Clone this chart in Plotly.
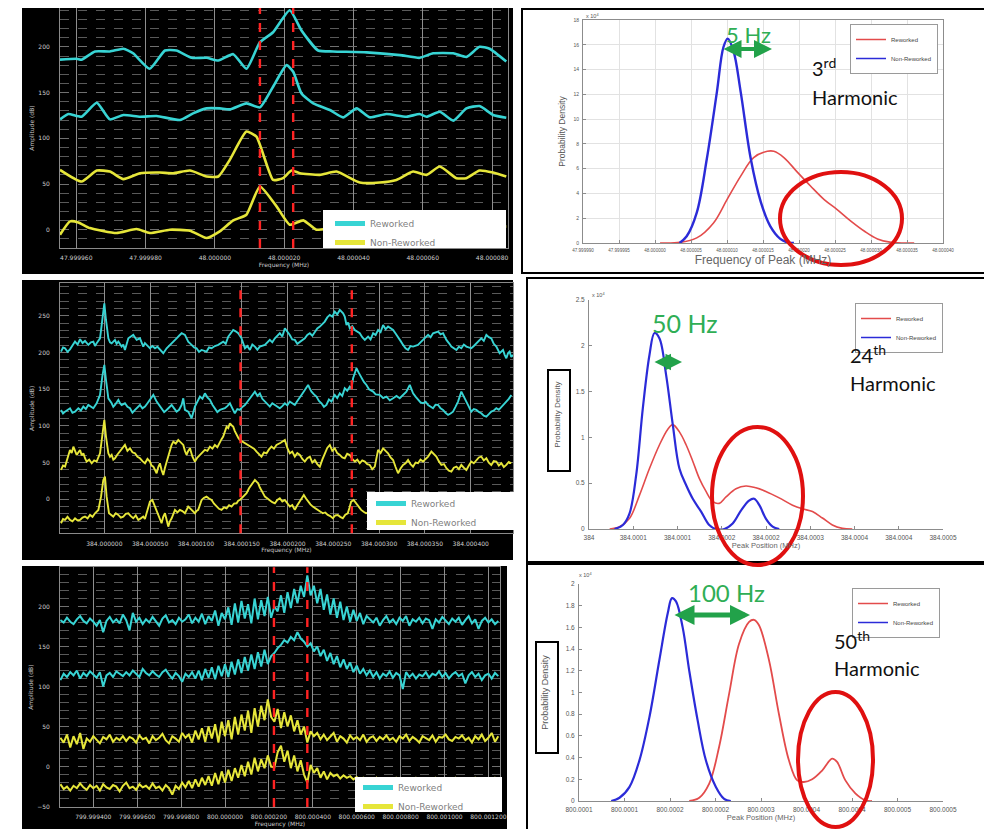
import plotly.graph_objects as go

W, H = 992, 829
OFF = 8  # the page places the figure 8 px from the top-left corner of the window
def px(x): return (x - OFF) / W
def py(y): return 1 - (y - OFF) / H

CYAN = "#38d4d4"
YEL = "#e6e63a"
RED = "#e34b4b"
BLUE = "#2b2bd8"
GREEN = "#2fae55"

# ---------------- DATA ----------------
# Panel A: 3rd harmonic spectra, x = offset from 48 MHz (Hz), y = amplitude (dB)
a_tickvals = [-40, -20, 0, 20, 40, 60, 80]
a_ticktext = ["47.999960", "47.999980", "48.000000", "48.000020", "48.000040", "48.000060", "48.000080"]
a_markers = [13.0, 22.6]
a_rew_1 = [(-44.7,186),(-39.9,187),(-38.5,186),(-34.6,195),(-30.3,195),(-26.4,198),(-23.6,193),(-18.8,176),
           (-14.4,196),(-11.1,196),(-6.7,188),(-2.4,188),(1.0,185),(5.3,192),(9.1,176),(13.0,205),(16.8,216),
           (21.6,240),(25.0,218),(29.8,196),(34.1,195),(43.8,194),(53.4,191),(59.1,188),(63.0,193),(68.8,193),
           (72.6,189),(76.4,200),(79.3,198),(84.1,184)]
a_rew_2 = [(-44.7,120.7),(-42.3,126.5),(-38.5,123.6),(-34.1,138.9),(-30.3,120.7),(-26.4,125.5),(-21.6,123.6),
           (-16.8,124.4),(-10.1,120),(-6.3,127.3),(-2.4,132.7),(1.4,132.7),(4.3,131.6),(9.1,138.2),(13.0,133.8),
           (16.8,156.4),(20.7,180),(22.6,172.7),(25.0,149),(28.4,138.2),(33.2,130.9),(37.0,122.9),(40.9,132.7),
           (44.7,122.9),(49.5,126.5),(55.3,123.6),(59.1,126.5),(61.1,123.6),(64.9,129),(68.8,119.3),(72.6,132.7),
           (76.4,135.3),(80.3,125.5),(84.1,122.5)]
a_non_1 = [(-44.7,65.5),(-38.5,52.7),(-34.1,64.7),(-30.3,63.6),(-26.4,55.3),(-21.6,61.8),(-15.9,62.5),(-12.0,61.8),
           (-7.2,64.7),(-2.4,58.2),(1.0,58.2),(4.3,76.4),(9.1,107.3),(12.0,101.8),(16.8,54.5),(19.7,56.4),
           (22.1,64.7),(24.5,61.8),(30.3,60),(35.1,63.6),(41.8,51.6),(47.6,51.6),(52.4,54.5),(57.2,63.6),
           (61.1,60),(64.9,69.1),(69.7,56.4),(72.6,56.4),(76.4,64.7),(80.3,62.5),(84.1,58.2)]
a_non_2 = [(-44.7,-5.5),(-41.8,9.1),(-39.4,8),(-36.1,1.8),(-28.4,-3.6),(-22.6,0.7),(-18.8,-3.6),(-13.0,0),
           (-7.2,-1.1),(-2.4,-9.1),(1.4,-1.8),(5.3,10.2),(9.1,16.4),(13.0,47.3),(17.8,25.5),(21.6,5.5),
           (25.5,10.2),(29.3,0),(34.1,2),(43.8,0),(53.4,3),(63.0,1),(72.6,2),(84.1,3.6)]

# Panel C: 24th harmonic spectra, x = offset from 384 MHz (Hz)
c_tickvals = [0, 50, 100, 150, 200, 250, 300, 350, 400]
c_ticktext = ["384.000000", "384.000050", "384.000100", "384.000150", "384.000200",
              "384.000250", "384.000300", "384.000350", "384.000400"]
c_markers = [148.7, 270.2]
c_rew_1 = [(-47.3,201.4),(-45.1,207),(-42.9,205.9),(-40.2,201),(-37.5,204.5),(-34.8,210),(-32,215),(-29.2,211),
           (-26.5,218.2),(-23.8,213),(-21.1,215.9),(-17.5,210.5),(-14.7,214),(-12,215),(-10.2,209),(-8.4,212.7),
           (-4.7,219.5),(-2.2,244.5),(0,267.3),(1.8,244.5),(4.4,219.5),(6.2,214),(8,212.7),(11.6,217.3),
           (13.4,212),(15.3,215),(18.9,208.2),(20.7,211),(22.5,203.6),(26.2,219.5),(28.9,222),(31.6,224.1),
           (35.3,217.3),(38.9,219.5),(42.5,208.2),(44.3,213),(46.2,210.5),(49.8,205.9),(52.5,209),(55.3,205.9),
           (58,208),(60.7,203.6),(64.4,199.1),(68,205.9),(70.7,209),(73.5,212.7),(78.9,219.5),(81.6,223),
           (84.4,226.4),(88,224.1),(91.6,215),(95.3,210.5),(98,207),(100.7,205.9),(103.4,201),(106.2,203.6),
           (111.6,201.4),(114.3,207),(117.1,205.9),(120.7,209),(124.4,210.5),(129.8,215),(132.5,212),(135.3,221.8),
           (138,226),(140.7,230.9),(143.4,229),(146.2,226.4),(149.8,219.5),(153.5,205.9),(156.2,209),(158.9,203.6),
           (161.6,211),(164.4,208.2),(167.1,204),(169.8,208.2),(175.3,210.5),(178,214),(180.7,217.3),(183.4,214),
           (186.2,219.5),(191.6,226.4),(194.3,222),(197.1,233.2),(199.8,229),(202.5,224.1),(205.2,218),(208,217.3),
           (210.7,212),(213.5,215),(218.9,219.5),(221.6,224),(224.4,226.4),(227.1,223),(229.8,228.6),(232.5,233),
           (235.3,235.5),(238,239),(240.7,242.3),(243.4,248),(246.2,251.4),(248.9,249),(251.6,255.9),(254.3,252),
           (257.1,258.2),(260.7,253.6),(262.5,249),(264.4,237.7),(266.2,241),(268,233.2),(270.7,236),(273.5,230.9),
           (276.2,228),(278.9,226.4),(281.6,221),(284.4,217.3),(288,221.8),(290.7,218),(293.5,226.4),(296.2,224),
           (298.9,230.9),(301.6,228),(304.4,237.7),(307.1,232),(309.8,235.5),(315.3,230.9),(318,226),(320.7,221.8),
           (323.4,216),(326.2,210.5),(328.9,206),(331.6,203.6),(334.3,209),(337.1,208.2),(342.5,210.5),(345.2,214),
           (348,217.3),(353.5,224.1),(356.2,221),(358.9,226.4),(364.4,228.6),(367.1,225),(369.8,226.4),(373.5,217.3),
           (376.2,213),(378.9,208.2),(384.4,203.6),(387.1,208),(389.8,205.9),(392.5,211),(395.3,208.2),(400.7,205.9),
           (403.4,209),(406.2,212.7),(408.9,215),(411.6,219.5),(414.3,216),(417.1,224.1),(419.8,221),(422.5,219.5),
           (425.2,212),(428,208.2),(431.6,199.1),(435.3,203.6),(437.1,197),(438.9,192.3),(440.7,199),(442.5,201.4),
           (444.3,194),(446.2,196.8)]
c_rew_2 = [(-47.3,121.8),(-45.1,117),(-42.9,119.5),(-40.2,122),(-37.5,124.1),(-34.8,118),(-32,119.5),(-28.4,124.1),
           (-25.6,121),(-22.9,126.4),(-20.2,123),(-17.5,128.6),(-14.8,126),(-12,124.1),(-8.4,130.9),(-4.7,142.3),
           (-2.2,167.3),(0,183.2),(1.8,162.7),(4.4,137.7),(8,130.9),(9.8,126),(11.6,128.6),(15.3,135.5),(17.1,131),
           (18.9,128.6),(22.5,130.9),(25.3,126),(28,124.1),(30.7,118),(33.5,121.8),(36.2,126),(38.9,128.6),
           (41.6,124),(44.4,126.4),(47.1,131),(49.8,135.5),(53.5,142.3),(57.1,133.2),(59.8,128),(62.5,124.1),
           (65.3,119),(68,121.8),(70.7,125),(73.5,128.6),(76.2,124),(78.9,119.5),(81.6,122),(84.4,128.6),
           (86.2,137.7),(88,121.8),(91.6,119.5),(93.4,114),(95.3,110.5),(98.9,126.4),(101.6,133),(104.4,140),
           (107.1,137),(109.8,144.5),(112.5,139),(115.3,135.5),(118,129),(120.7,124.1),(123.4,119),(126.2,121.8),
           (131.6,124.1),(134.3,127),(137.1,130.9),(139.8,124),(142.5,117.3),(145.2,123),(148,121.8),(150.7,126),
           (153.5,128.6),(156.2,133),(158.9,137.7),(161.6,143),(164.4,146.8),(167.1,141),(169.8,144.5),(172.5,137),
           (175.3,133.2),(178,129),(180.7,126.4),(183.4,131),(186.2,128.6),(191.6,124.1),(194.3,127),(197.1,130.9),
           (199.8,128),(202.5,133.2),(205.2,131),(208,128.6),(210.7,134),(213.5,140),(216.2,144),(218.9,149.1),
           (222.5,155.9),(224.3,151),(226.2,146.8),(228.9,143),(231.6,140),(234.3,134),(237.1,130.9),(239.8,126),
           (242.5,128.6),(245.2,136),(248,133.2),(251.6,142.3),(254.3,138),(257.1,144.5),(259.8,141),(262.5,151.4),
           (265.2,148),(268,153.6),(269.8,151),(271.6,165),(275.3,178.6),(278,172),(280.7,165),(283.4,160),
           (286.2,155.9),(289,150),(293.5,146.8),(296.2,143),(300.7,142.3),(304.4,138),(308,140),(311.7,135),
           (315.3,137.7),(319,141),(322.5,137.7),(326.2,142),(329.8,146.8),(333.5,155.9),(337.1,144.5),(339.8,140),
           (342.5,135.5),(345.2,132),(348,130.9),(350.8,133),(353.5,128.6),(356.2,126),(358.9,124.1),(361.6,129),
           (364.4,128.6),(367.1,124),(369.8,121.8),(372.5,118),(375.3,115),(378,117),(380.7,119.5),(383.4,126),
           (386.2,133.2),(389.8,146.8),(392.5,140),(395.3,133.2),(398,125),(400.7,119.5),(403.4,123),(406.2,121.8),
           (408.9,119),(411.6,117.3),(414.3,114),(417.1,112.7),(419.8,116),(422.5,119.5),(425.2,121),(428,124.1),
           (430.7,122),(433.5,126.4),(436.2,129),(438.9,133.2),(441.6,137),(444.4,142.3)]
c_non_1 = [(-47.3,40),(-45.1,46),(-42.9,44.5),(-40.2,58),(-37.5,67.3),(-35.6,63),(-33.8,71.8),(-30.2,60.5),
           (-28.4,64),(-26.5,67.3),(-24.7,60),(-22.9,62.7),(-21.1,56),(-19.3,51.4),(-16.5,54),(-13.8,49.1),
           (-11.1,53),(-8.4,51.4),(-4.7,62.7),(-2.2,90),(0,108.2),(1.8,85.5),(4.4,62.7),(6.2,58),(8,60.5),
           (9.8,54),(11.6,55.9),(14.3,61),(17.1,65),(19.8,70),(22.5,74.1),(25.2,66),(28,69.5),(30.7,64),
           (33.5,62.7),(36.2,58),(38.9,55.9),(41.6,52),(44.4,49.1),(47.1,55),(49.8,51.4),(51.6,46),(53.5,44.5),
           (55.3,40),(57.1,35.5),(58.9,44),(60.7,49.1),(62.5,40),(64.4,33.2),(66.2,43),(68,51.4),(69.8,61),
           (71.6,67.3),(73.4,74),(75.3,78.6),(78,76),(80.7,80.9),(83.4,77),(86.2,74.1),(88,66),(89.8,60.5),
           (91.6,66),(93.5,69.5),(96.2,58),(98.9,51.4),(101.6,57),(104.4,60.5),(107.1,64),(109.8,67.3),
           (112.5,66),(115.3,71.8),(118,69),(120.7,74.1),(123.4,71),(126.2,78.6),(128,82),(129.8,85.5),(131.6,92),
           (133.5,99.1),(135.3,97),(137.1,103.6),(138.9,101),(140.7,99.1),(142.5,93),(144.4,87.7),(146.2,84),
           (148,80.9),(150.7,79),(153.5,76.4),(157.1,74),(160.7,71.8),(163.4,69),(166.2,65),(168.9,62),
           (171.6,58.2),(174.3,64),(177.1,62.7),(179.8,68),(182.5,71.8),(185.2,69),(188,74.1),(192.5,77),
           (197.1,80.9),(199.8,70),(202.5,62.7),(205.2,65),(208,58.2),(210.7,63),(213.5,60.5),(216.2,55),
           (218.9,51.4),(221.6,56),(224.4,58.2),(227.1,50),(229.8,53.6),(232.5,48),(235.3,44.5),(238,54),
           (240.7,62.7),(243.4,70),(246.2,74.1),(248.9,66),(251.6,69.5),(254.3,63),(257.1,60.5),(259.8,57),
           (262.5,55.9),(265.2,62),(268,60.5),(270.7,55),(273.5,51.4),(276.2,54),(278.9,49.1),(281.6,53),
           (284.4,51.4),(287.1,48),(289.8,46.8),(292.5,41),(295.3,44.5),(297.1,58),(298.9,67.3),(301.6,63),
           (304.4,69.5),(307.1,66),(309.8,62.7),(312.5,57),(315.3,53.6),(318,44),(320.7,35.5),(323.4,42),
           (326.2,46.8),(328.9,49),(331.6,53.6),(334.3,48),(337.1,44.5),(339.8,50),(342.5,49.1),(345.2,54),
           (348,51.4),(350.8,55),(353.5,58.2),(357.1,65),(359.8,61),(362.5,58.2),(365.2,52),(368,46.8),
           (370.8,48),(373.5,42.3),(376.2,39),(378.9,37.7),(381.6,43),(384.4,44.5),(387.1,41),(389.8,46.8),
           (392.5,43),(395.3,40),(398,46),(400.7,51.4),(403.4,49),(406.2,53.6),(408.9,57),(411.6,58.2),
           (414.3,53),(417.1,55.9),(419.8,50),(422.5,46.8),(425.2,52),(428,51.4),(430.7,46),(433.5,49.1),
           (436.2,44),(438.9,46.8),(441.6,51),(444.4,49.1)]
c_non_2 = [(-47.3,-32.7),(-45.1,-27),(-42.9,-28.2),(-40.2,-24),(-37.5,-28.2),(-34.8,-30),(-32,-25.9),(-29.2,-29),
           (-26.5,-28.2),(-23.8,-25),(-21.1,-23.6),(-18.3,-26),(-15.6,-21.4),(-12.9,-24),(-10.2,-19.1),(-6.5,-14.5),
           (-3.6,3.6),(-1.1,26.4),(0.7,30.9),(2.5,3.6),(5.1,-19.1),(7.5,-21),(9.8,-23.6),(12.5,-19),(15.3,-21.4),
           (18,-25),(20.7,-23.6),(23.4,-20),(26.2,-19.1),(28.9,-23),(31.6,-25.9),(34.3,-22),(37.1,-28.2),
           (39.8,-26),(42.5,-23.6),(44.3,-27),(46.2,-19.1),(49.8,-3.2),(52.4,-0.9),(55.3,-10),(58.9,-21.4),
           (60.7,-26),(62.5,-32.7),(64.3,-24),(66.2,-19.1),(68,-28),(69.8,-37.3),(71.6,-30),(73.5,-25.9),
           (77.1,-14.5),(79.8,-18),(82.5,-14.5),(85.2,-16),(88,-19.1),(89.8,-15),(91.6,-10),(95.3,-14.5),
           (98.9,-19.1),(100.7,-16),(102.5,-14.5),(104.3,-8),(106.2,-0.9),(108.9,2),(111.6,3.6),(114.3,1),
           (117.1,-0.9),(119.8,-6),(122.5,-10),(125.2,-13),(128,-14.5),(130.7,-11),(133.5,-12.3),(136.2,-8),
           (138.9,-10),(141.6,-6),(144.4,-5.5),(146.2,-2),(148,-0.9),(151.6,3.6),(153.4,6),(155.3,8.2),(158,15),
           (160.7,19.5),(162.5,23),(164.4,26.4),(166.2,24),(168,21.8),(169.8,16),(171.6,12.7),(173.4,8),
           (175.3,3.6),(178,1),(180.7,-0.9),(183.4,-4),(186.2,-5.5),(188.9,-1),(191.6,1.4),(194.3,-3),
           (197.1,-0.9),(199.8,-6),(202.5,-10),(205.2,-8),(208,-14.5),(210.7,-8),(213.5,-3.2),(217.8,5.9),
           (220.2,1),(222.5,-3.2),(225,-7),(227.6,-10),(230.3,-12),(233.1,-14.5),(235.8,-17),(238.5,-19.1),
           (241.2,-18),(244,-21.4),(246.7,-23),(249.5,-25.9),(252.2,-22),(254.9,-21.4),(257.6,-24),(260.4,-25.9),
           (263.1,-21),(265.8,-19.1),(267.6,-12),(269.5,-3.2),(272.2,-1),(274.9,-5.5),(277.6,-10),(280.4,-14.5),
           (283.1,-17),(285.8,-19.1),(300.7,-14.5),(318.9,-19),(337.1,-14),(355.3,-19),(373.5,-17),(391.6,-19),
           (409.8,-15),(428,-19),(446.2,-15)]

# Panel E: 50th harmonic spectra, x = offset from 800 MHz (Hz), sampled every 15 Hz from -750 Hz
e_x0, e_dx = -750, 15
e_tickvals = [-600, -400, -200, 0, 200, 400, 600, 800, 1000, 1200]
e_ticktext = ["799.999400", "799.999600", "799.999800", "800.000000", "800.000200", "800.000400",
              "800.000600", "800.000800", "800.001000", "800.001200"]
e_markers = [223, 375]
e_rew_1 = [183,180,186,181,178,184,188,182,179,185, 181,176,183,168,182,187,180,184,179,190,
           183,170,192,181,186,178,184,180,187,182, 176,185,189,180,183,178,186,181,184,190,
           179,186,181,191,178,188,182,195,176,192, 184,199,177,204,180,207,185,203,179,210,
           184,208,188,212,186,200,194,214,192,218, 198,222,204,226,212,239,214,226,204,222,
           196,215,190,210,186,206,183,200,181,196, 182,192,178,188,184,180,186,176,183,188,
           180,184,178,186,182,188,176,184,181,186, 179,185,183,172,184,180,187,182,178,185,
           181,186,177,183,188,179,184,172,182,186, 180,184,178,182]
e_rew_2 = [108,116,112,118,114,120,110,117,113,119, 115,111,118,100,114,117,112,119,116,113,
           118,114,120,116,112,122,117,114,119,115, 112,118,121,115,110,117,113,106,116,112,
           118,110,120,108,122,111,124,109,126,113, 128,112,131,115,134,117,137,120,140,122,
           143,125,146,128,138,142,148,152,158,155, 162,158,168,160,156,150,154,144,150,138,
           146,132,142,128,138,124,134,122,130,118, 126,116,122,114,120,112,118,110,116,113,
           119,111,117,114,97,118,112,116,110,115, 113,118,111,116,114,119,112,117,110,115,
           118,113,116,104,114,118,112,116,108,114, 116,110,117,113]
e_non_1 = [36,30,40,24,38,28,42,22,35,31, 38,33,29,37,34,40,31,36,33,38,
           32,37,35,30,39,34,36,29,38,33, 36,41,33,29,38,35,31,42,36,40,
           30,45,34,48,31,50,35,53,30,56, 38,58,34,62,40,65,45,70,42,73,
           50,76,58,84,62,56,72,48,68,50, 64,44,58,40,50,30,44,38,42,34,
           40,33,37,42,31,38,35,30,39,34, 37,33,40,31,36,38,32,37,34,39,
           33,36,31,38,35,40,32,37,34,30, 38,35,33,39,31,37,36,40,34,32,
           37,35,39,33,36,30,38,34,40,32, 36,42,31,38]
e_non_2 = [-22,-28,-25,-30,-24,-27,-21,-26,-29,-23, -27,-24,-30,-22,-26,-28,-23,-25,-31,-24,
           -20,-27,-25,-29,-22,-26,-24,-28,-21,-27, -25,-30,-23,-27,-35,-24,-28,-20,-26,-18,
           -27,-16,-25,-14,-23,-12,-24,-8,-22,-6, -20,-4,-18,-2,-14,2,-12,6,-10,11,
           -6,9,-2,14,0,-1,18,26,6,20, -2,14,-6,8,-10,-20,2,-8,-2,-14,
           -6,-16,-8,-12,-10,-15,-11,-14,-12,-16, -13,-18,-14,-17,-15,-19,-14,-18,-16,-20,
           -15,-18,-14,-17,-16,-19,-15,-18,-14,-17, -16,-19,-15,-18,-14,-17,-16,-19,-15,-18,
           -14,-17,-16,-19,-15,-18,-14,-17,-16,-19, -15,-18,-14,-17]

# Panel B: 3rd harmonic peak-position density (x = offset from 48 MHz in Hz, y in 1e4)
b_tickvals = [-10, -5, 0, 5, 10, 15, 20, 25, 30, 35, 40]
b_ticktext = ["47.999990", "47.999995", "48.000000", "48.000005", "48.000010", "48.000015",
              "48.000020", "48.000025", "48.000030", "48.000035", "48.000040"]
b_non = [(3.4,0),(4.4,0.54),(5.8,2.45),(7.2,6.8),(8.6,12.2),(9.5,15.8),(10.1,16.5),(10.9,15.5),(11.9,12.2),
         (13.3,6.8),(14.7,3.3),(16.0,1.36),(17.4,0.33),(18.4,0.05),(19.3,0)]
b_rew = [(0.7,0),(3.5,0.05),(5.8,0.41),(8.1,1.6),(10.0,3.5),(11.9,5.4),(13.7,6.9),(15.6,7.4),(16.5,7.4),
         (17.9,6.9),(19.8,5.7),(21.6,4.6),(23.5,3.5),(25.3,2.7),(27.2,1.77),(29.1,0.95),(30.9,0.33),(32.8,0.05),
         (36.0,0)]

# Panel D: 24th harmonic density (x = offset from 384 MHz in Hz)
d_tickvals = [0, 60, 120, 180, 240, 300, 360, 420, 480]
d_ticktext = ["384", "384.0001", "384.0001", "384.0002", "384.0002", "384.0003", "384.0004", "384.0004", "384.0005"]
d_non = [(34.7,0),(46,0.044),(55,0.17),(64,0.59),(73,1.32),(82,1.9),(88.8,2.14),(95.6,2.08),(104.6,1.68),
         (113.6,1.14),(122.6,0.66),(131.6,0.48),(140.7,0.33),(152,0.19),(163,0.044),(172,0),(183.5,0),
         (194.8,0.06),(206,0.2),(217,0.31),(224,0.33),(231,0.26),(240,0.11),(249,0.025),(258,0)]
d_rew = [(28,0),(41.5,0.025),(55,0.116),(68.5,0.37),(82,0.66),(95.6,0.92),(106.9,1.09),(113.6,1.14),
         (122.6,1.06),(131.6,0.92),(140.7,0.74),(149.7,0.55),(158.7,0.41),(167.7,0.30),(176.7,0.28),
         (185.8,0.35),(199.3,0.44),(212.8,0.47),(226.3,0.45),(239.8,0.41),(257.9,0.34),(276,0.26),(289.4,0.22),
         (303,0.19),(316.5,0.12),(330,0.044),(343.5,0.007),(357,0)]

# Panel F: 50th harmonic density (x = offset from 800 MHz in Hz)
f_tickvals = [60, 120, 180, 240, 300, 360, 420, 480, 540]
f_ticktext = ["800.0001", "800.0001", "800.0002", "800.0002", "800.0003", "800.0004", "800.0004", "800.0005", "800.0005"]
f_non = [(102.5,0),(113.4,0.03),(126.6,0.13),(139.7,0.375),(152.9,0.775),(166,1.3),(177,1.73),(182.6,1.87),
         (187.9,1.84),(196.7,1.6),(205.4,1.2),(216.4,0.745),(227.3,0.375),(240.5,0.13),(251.4,0.02),(260.2,0)]
f_rew = [(205.4,0),(218.6,0.03),(231.7,0.16),(244.8,0.5),(258,0.99),(271.1,1.45),(284.3,1.65),(290.8,1.67),
         (297.4,1.62),(310.5,1.3),(323.7,0.8),(336.8,0.375),(347.8,0.19),(356.5,0.175),(367.5,0.2),(380.6,0.28),
         (393.8,0.39),(400.3,0.36),(411.3,0.19),(424.4,0.07),(437.6,0.006),(446.3,0)]

# ---------------- FIGURE ----------------
fig = go.Figure()

def add_pairs(pairs, xa, ya, color, width, shape="linear", smoothing=1.0):
    line = dict(color=color, width=width, shape=shape)
    if shape == "spline":
        line["smoothing"] = smoothing
    fig.add_trace(go.Scatter(x=[p[0] for p in pairs], y=[p[1] for p in pairs], mode="lines", line=line,
                             xaxis=xa, yaxis=ya, showlegend=False, hoverinfo="skip"))

def add_uniform(vals, xa, ya, color, width):
    fig.add_trace(go.Scatter(y=vals, x0=e_x0, dx=e_dx, mode="lines", line=dict(color=color, width=width),
                             xaxis=xa, yaxis=ya, showlegend=False, hoverinfo="skip"))

def add_legend_entries(xa, ya, leg, c1, c2, width):
    for name, col in (("Reworked", c1), ("Non-Reworked", c2)):
        fig.add_trace(go.Scatter(x=[None], y=[None], mode="lines", line=dict(color=col, width=width),
                                 name=name, legend=leg, xaxis=xa, yaxis=ya))

for s, c in ((a_rew_1, CYAN), (a_rew_2, CYAN), (a_non_1, YEL), (a_non_2, YEL)):
    add_pairs(s, "x", "y", c, 2.6, "spline", 0.5)
add_legend_entries("x", "y", "legend", CYAN, YEL, 5)
for s, c in ((c_rew_1, CYAN), (c_rew_2, CYAN), (c_non_1, YEL), (c_non_2, YEL)):
    add_pairs(s, "x3", "y3", c, 1.9)
add_legend_entries("x3", "y3", "legend3", CYAN, YEL, 5)
for s, c in ((e_rew_1, CYAN), (e_rew_2, CYAN), (e_non_1, YEL), (e_non_2, YEL)):
    add_uniform(s, "x5", "y5", c, 2.0)
add_legend_entries("x5", "y5", "legend5", CYAN, YEL, 5)
add_pairs(b_rew, "x2", "y2", RED, 1.6, "spline")
add_pairs(b_non, "x2", "y2", BLUE, 2.4, "spline")
add_legend_entries("x2", "y2", "legend2", RED, BLUE, 1.5)
add_pairs(d_rew, "x4", "y4", RED, 1.6, "spline")
add_pairs(d_non, "x4", "y4", BLUE, 2.2, "spline")
add_legend_entries("x4", "y4", "legend4", RED, BLUE, 1.5)
add_pairs(f_rew, "x6", "y6", RED, 1.8, "spline")
add_pairs(f_non, "x6", "y6", BLUE, 2.2, "spline")
add_legend_entries("x6", "y6", "legend6", RED, BLUE, 1.5)

LFONT = dict(family="DejaVu Sans", size=6, color="#cfcfcf")
LTITLE = dict(family="DejaVu Sans", size=6, color="#c8c8c8")
RFONT = dict(family="Liberation Sans", size=6.5, color="#555555")

def left_x(dom, rng, tv, tt, anchor, title):
    return dict(domain=dom, range=rng, tickvals=tv, ticktext=tt, anchor=anchor, showgrid=True,
                gridcolor="#8e8e8e", gridwidth=1, zeroline=False, showline=True, linecolor="#8a8a8a",
                mirror=True, ticks="", tickfont=LFONT, ticklabelstandoff=4, automargin=False,
                title=dict(text=title, font=LTITLE, standoff=2))

def left_y(dom, rng, anchor, title):
    return dict(domain=dom, range=rng, tick0=0, dtick=50, anchor=anchor, showgrid=True, gridcolor="#707070",
                griddash="dash", gridwidth=1, zeroline=False, showline=True, linecolor="#8a8a8a", mirror=True,
                minor=dict(tick0=0, dtick=10, showgrid=True, gridcolor="#5a5a5a", griddash="dash", gridwidth=1),
                ticks="", tickfont=LFONT, ticklabelstandoff=8, automargin=False,
                title=dict(text=title, font=LTITLE, standoff=3))

def right_ax(dom, rng, anchor, title, tfont, standoff, tv=None, tt=None, dtick=None, grid=False, box=False,
             font=RFONT):
    d = dict(domain=dom, range=rng, anchor=anchor, showgrid=grid, gridcolor="#e2e2e2", zeroline=False,
             showline=True, linecolor="#8c8c8c", mirror=box, ticks="inside", ticklen=3, tickcolor="#8c8c8c",
             tickfont=font, ticklabelstandoff=2, automargin=False,
             title=dict(text=title, font=tfont, standoff=standoff))
    if tv is not None:
        d.update(tickvals=tv, ticktext=tt)
    if dtick is not None:
        d.update(tick0=0, dtick=dtick)
    return d

layout = dict(
    width=W, height=H, autosize=False, margin=dict(l=0, r=0, t=0, b=0, pad=0, autoexpand=False),
    paper_bgcolor="white", plot_bgcolor="rgba(0,0,0,0)", showlegend=True,
    xaxis=left_x([px(60), px(508)], [-44.7, 84.6], a_tickvals, a_ticktext, "y", "Frequency (MHz)"),
    yaxis=left_y([py(248), py(8)], [-20, 242.5], "x", "Amplitude (dB)"),
    xaxis3=left_x([px(60), px(513)], [-48.4, 446.2], c_tickvals, c_ticktext, "y3", "Frequency (MHz)"),
    yaxis3=left_y([py(533.3), py(283.3)], [-46.4, 294.5], "x3", "Amplitude (dB)"),
    xaxis5=left_x([px(60), px(500)], [-751.7, 1252.8], e_tickvals, e_ticktext, "y5", "Frequency (MHz)"),
    yaxis5=left_y([py(807), py(567.3)], [-50.5, 249], "x5", "Amplitude (dB)"),
    xaxis2=right_ax([px(583), px(943)], [-10, 40], "y2", "Frequency of Peak (MHz)",
                    dict(family="Liberation Sans", size=12, color="#666"), 0,
                    b_tickvals, b_ticktext, grid=True, box=True,
                    font=dict(family="Liberation Sans", size=4.6, color="#555")),
    yaxis2=right_ax([py(243), py(20)], [0, 18], "x2", "Probability Density",
                    dict(family="Liberation Sans", size=8.5, color="#555"), 6, dtick=2, grid=True, box=True,
                    font=dict(family="Liberation Sans", size=5, color="#555")),
    xaxis4=right_ax([px(589), px(943)], [0, 480], "y4", "Peak Position (MHz)",
                    dict(family="Liberation Sans", size=7.5, color="#666"), 2, d_tickvals, d_ticktext),
    yaxis4=right_ax([py(529), py(300)], [0, 2.5], "x4", "Probability Density",
                    dict(family="Liberation Sans", size=8, color="#555"), 13,
                    [0, 0.5, 1, 1.5, 2, 2.5], ["0", "0.5", "1", "1.5", "2", "2.5"]),
    xaxis6=right_ax([px(579), px(943)], [60, 540], "y6", "Peak Position (MHz)",
                    dict(family="Liberation Sans", size=7.5, color="#666"), 2, f_tickvals, f_ticktext),
    yaxis6=right_ax([py(801), py(584)], [0, 2], "x6", "Probability Density",
                    dict(family="Liberation Sans", size=9, color="#555"), 15, dtick=0.2),
)

LEG_L = dict(bgcolor="rgba(0,0,0,0)", borderwidth=0, font=dict(family="DejaVu Sans", size=9, color="#808080"),
             xanchor="left", yanchor="top", xref="paper", yref="paper")
LEG_R = dict(bgcolor="white", bordercolor="#9a9a9a", borderwidth=1,
             font=dict(family="Liberation Sans", size=6, color="#444"),
             xanchor="left", yanchor="top", xref="paper", yref="paper")
layout["legend"] = dict(LEG_L, x=px(330), y=py(209))
layout["legend3"] = dict(LEG_L, x=px(371), y=py(489))
layout["legend5"] = dict(LEG_L, x=px(358), y=py(773))
layout["legend2"] = dict(LEG_R, x=px(850), y=py(24))
layout["legend4"] = dict(LEG_R, x=px(855), y=py(303))
layout["legend6"] = dict(LEG_R, x=px(852), y=py(588))

shapes = []
def prect(x0, y0, x1, y1, **kw):
    d = dict(type="rect", xref="paper", yref="paper", x0=px(x0), x1=px(x1), y0=py(y1), y1=py(y0))
    d.update(kw)
    shapes.append(d)

for r in ((22, 3, 513, 274), (22, 280, 513, 560), (22, 566, 507, 845)):
    prect(*r, fillcolor="black", line=dict(width=0), layer="below")
for r in ((522, 9, 987, 273), (527, 278, 987, 562), (527, 564, 987, 845)):
    prect(*r, fillcolor="rgba(0,0,0,0)", line=dict(color="black", width=2), layer="above")
for r in ((548, 370, 570, 471), (536, 642, 558, 753)):
    prect(*r, fillcolor="rgba(0,0,0,0)", line=dict(color="black", width=2), layer="above")
for xa, ya, ms in (("x", "y", a_markers), ("x3", "y3", c_markers), ("x5", "y5", e_markers)):
    for m in ms:
        shapes.append(dict(type="line", xref=xa, yref=ya + " domain", x0=m, x1=m, y0=0, y1=1,
                           line=dict(color="#ff2222", width=2.4, dash="dash"), layer="above"))
for r in ((323, 210, 506, 248), (367, 492, 520, 530), (355, 777, 502, 812)):
    prect(*r, fillcolor="white", line=dict(width=0), layer="above")
for r in ((780, 172, 902, 265), (712, 427, 803, 565), (798, 692, 873, 827)):
    x0, y0, x1, y1 = r
    shapes.append(dict(type="circle", xref="paper", yref="paper", x0=px(x0), x1=px(x1), y0=py(y1), y1=py(y0),
                       line=dict(color="#e01010", width=4), fillcolor="rgba(0,0,0,0)", layer="above"))
layout["shapes"] = shapes

ann = []
def text(x, y, t, size, color="#000", family="Liberation Sans", xanchor="center", **kw):
    d = dict(x=px(x), y=py(y), xref="paper", yref="paper", text=t, showarrow=False, xanchor=xanchor,
             yanchor="middle", font=dict(size=size, color=color, family=family))
    d.update(kw)
    ann.append(d)

for (x, y) in ((592, 16), (598, 295), (585, 575)):
    text(x, y, "x 10<sup>4</sup>", 5.5, "#555")

text(748, 34, "5 Hz", 22, GREEN, "Lato")
text(685, 323, "50 Hz", 25, GREEN, "Lato")
text(726, 592, "100 Hz", 24, GREEN, "Lato")
for (x1, x0, y, w, s) in ((772, 722, 49, 4, 0.9), (682, 653, 362, 1.5, 2.2), (750, 673, 615, 5, 0.8)):
    ann.append(dict(x=px(x1), y=py(y), xref="paper", yref="paper", ax=x0 - x1, ay=0, text="", showarrow=True,
                    arrowhead=2, startarrowhead=2, arrowside="end+start", arrowwidth=w, arrowsize=s,
                    startarrowsize=s, arrowcolor="#22a24a"))

for (x, y1, y2, t) in ((810, 67, 97, "3<sup>rd</sup>"), (848, 354, 383, "24<sup>th</sup>"), (832, 640, 668, "50<sup>th</sup>")):
    text(x, y1, t, 20, "#111", "Lato", xanchor="left")
    text(x, y2, "Harmonic", 20, "#111", "Lato", xanchor="left")

layout["annotations"] = ann
fig.update_layout(**layout)
fig.write_html("out.html")
